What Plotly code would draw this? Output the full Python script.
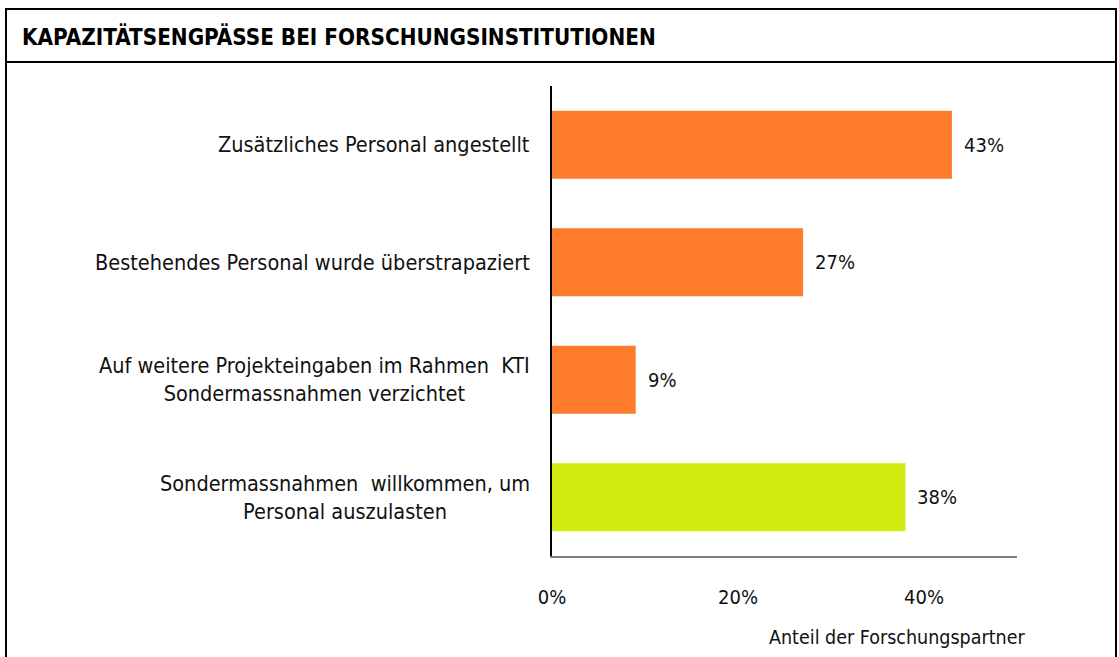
import plotly.graph_objects as go

# data
categories = [
    'Zusätzliches Personal angestellt',
    'Bestehendes Personal wurde überstrapaziert',
    'Auf weitere Projekteingaben im Rahmen  KTI<br>Sondermassnahmen verzichtet',
    'Sondermassnahmen  willkommen, um<br>Personal auszulasten',
]
values = [43, 27, 9, 38]
bar_colors = ['#FD7B2A', '#FD7B2A', '#FD7B2A', '#D3EA10']
tick_vals = [0, 20, 40]
tick_text = ['0%', '20%', '40%']

W, H = 1119, 657
FONT = 'DejaVu Sans Condensed, Liberation Sans Narrow, Arial Narrow, sans-serif'
FS = 20

fig = go.Figure(go.Bar(
    x=values,
    y=categories,
    orientation='h',
    width=0.58,
    marker=dict(color=bar_colors, line=dict(width=0)),
    hoverinfo='skip',
))

# value labels to the right of each bar
for cat, v in zip(categories, values):
    fig.add_annotation(x=v, y=cat, xref='x', yref='y', text=f'{v}%',
                       showarrow=False, xanchor='left', xshift=10,
                       font=dict(size=FS, color='#111111', family=FONT))

# category labels (centered lines, right edge near the axis)
for cat in categories:
    fig.add_annotation(x=532 / W, y=cat, xref='paper', yref='y', text=cat,
                       showarrow=False, xanchor='right', align='center',
                       font=dict(size=21.5, color='#111111', family=FONT))

fig.add_annotation(x=1027 / W, y=1 - 637 / H, xref='paper', yref='paper',
                   text='Anteil der Forschungspartner', showarrow=False,
                   xanchor='right', yanchor='middle',
                   font=dict(size=19.5, color='#111111', family=FONT))

fig.add_annotation(x=20 / W, y=1 - 36 / H, xref='paper', yref='paper',
                   text='<b>KAPAZITÄTSENGPÄSSE BEI FORSCHUNGSINSTITUTIONEN</b>',
                   showarrow=False, xanchor='left', yanchor='middle',
                   font=dict(size=22.3, color='#000000', family=FONT))

# frame and title separator
fig.add_shape(type='rect', xref='paper', yref='paper',
              x0=6 / W, x1=1116 / W, y0=-0.05, y1=1 - 9 / H,
              line=dict(color='#000000', width=2), fillcolor='rgba(0,0,0,0)')
fig.add_shape(type='line', xref='paper', yref='paper',
              x0=6 / W, x1=1116 / W, y0=1 - 62 / H, y1=1 - 62 / H,
              line=dict(color='#000000', width=2))

fig.update_layout(
    width=W, height=H,
    margin=dict(l=0, r=0, t=0, b=0, autoexpand=False),
    paper_bgcolor='white',
    plot_bgcolor='white',
    showlegend=False,
    xaxis=dict(
        domain=[552 / W, 1017 / W],
        range=[0, 50],
        tickvals=tick_vals,
        ticktext=tick_text,
        showgrid=False,
        zeroline=False,
        showline=True,
        linecolor='#808080',
        linewidth=2,
        ticks='',
        automargin=False,
        ticklabelstandoff=22,
        tickfont=dict(size=FS, color='#111111', family=FONT),
    ),
    yaxis=dict(
        domain=[1 - 556 / H, 1 - 86 / H],
        categoryorder='array',
        categoryarray=categories[::-1],
        showgrid=False,
        zeroline=False,
        showline=True,
        linecolor='#000000',
        linewidth=2,
        showticklabels=False,
        automargin=False,
        ticks='',
    ),
)

fig.write_html('out.html', config={'displayModeBar': False},
               post_script="document.body.style.margin='0';document.body.style.overflow='hidden';")
